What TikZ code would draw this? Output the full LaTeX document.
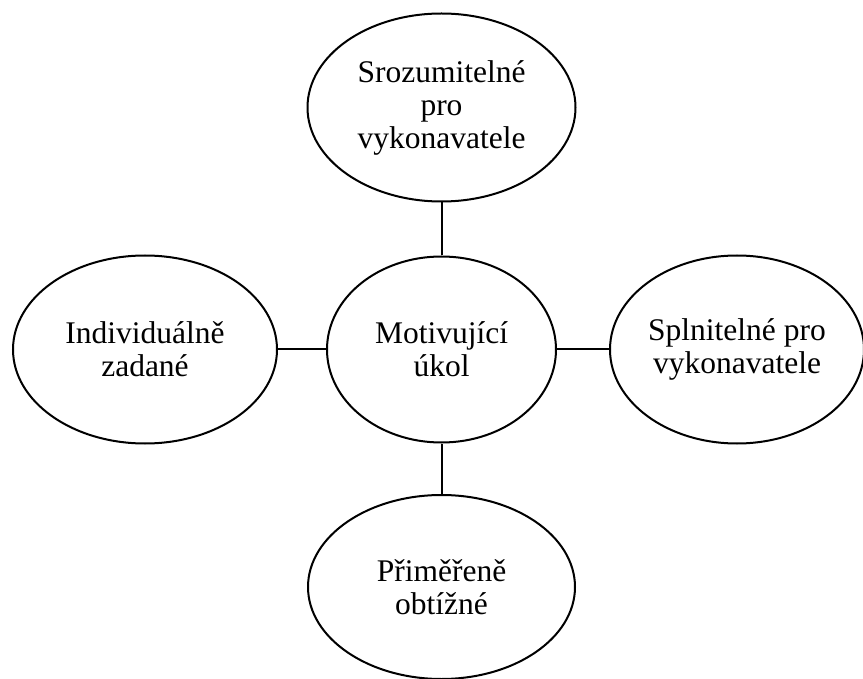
\documentclass[tikz,border=0pt]{standalone}
\usepackage{fontspec}
\setmainfont{Liberation Serif}
\usetikzlibrary{shapes.geometric}
\begin{document}
\begin{tikzpicture}[x=1pt,y=-1pt,
  bubble/.style={ellipse,draw=black,line width=2pt,inner sep=0pt,align=center,
    font=\fontsize{31.5}{33}\selectfont},
  link/.style={draw=black,line width=2pt}]
\useasboundingbox (0,0) rectangle (863,679);
\node[bubble,minimum width=268pt,minimum height=188pt] (top) at (441.5,107.5) {Srozumitelné\\pro\\vykonavatele};
\node[bubble,minimum width=229pt,minimum height=186pt] (mid) at (441.5,349.5) {Motivující\\úkol};
\node[bubble,minimum width=264pt,minimum height=188pt] (left) at (145,349.5) {Individuálně\\zadané};
\node[bubble,minimum width=254pt,minimum height=188pt] (right) at (737,349.5) {Splnitelné pro\\vykonavatele};
\node[bubble,minimum width=267pt,minimum height=184pt] (bot) at (441.5,587) {Přiměřeně\\obtížné};
\draw[link] (top.south) -- (mid.north);
\draw[link] (mid.south) -- (bot.north);
\draw[link] (left.east) -- (mid.west);
\draw[link] (mid.east) -- (right.west);
\end{tikzpicture}
\end{document}
